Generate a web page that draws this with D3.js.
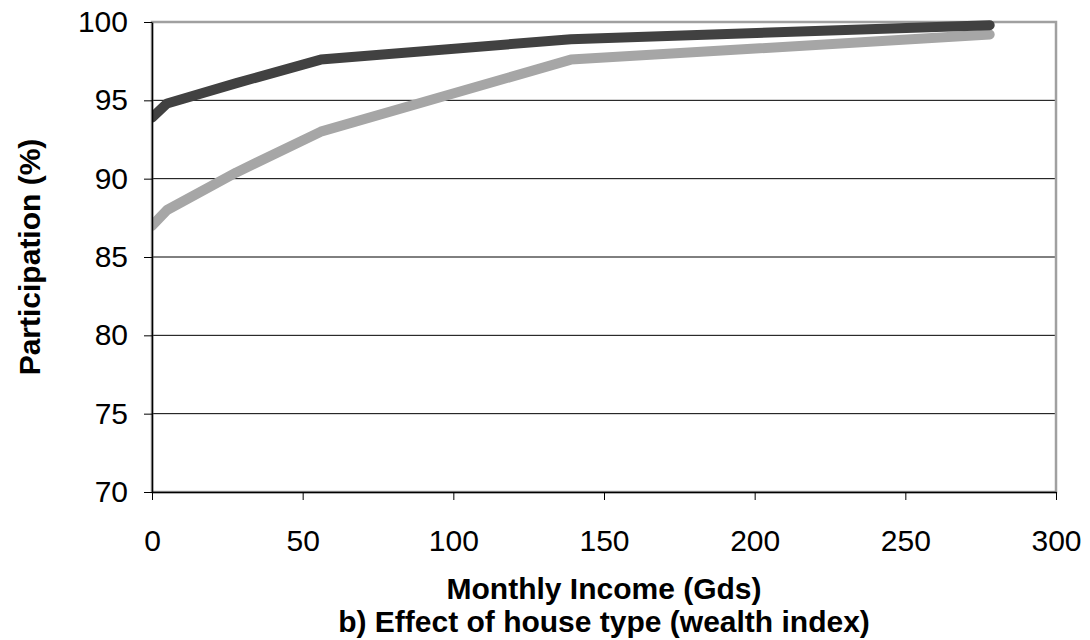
<!DOCTYPE html>
<html lang="en">
<head>
  <meta charset="UTF-8">
  <title>Participation vs Monthly Income</title>
  <style>
    body { margin: 0; background: #fff; }
    text { font-family: "Liberation Sans", Arial, sans-serif; }
  </style>
</head>
<body>
  <svg id="svg" width="1090" height="640"></svg>

  <script src="https://d3js.org/d3.v7.min.js"></script>
  <script>
    // data
    const income = [0, 5, 28, 56, 139, 278]
    const darkSeries = [93.9, 94.8, 96.1, 97.6, 98.9, 99.8]
    const lightSeries = [87.0, 88.0, 90.4, 93.0, 97.6, 99.2]
    const xTicks = [0, 50, 100, 150, 200, 250, 300]
    const yTicks = [70, 75, 80, 85, 90, 95, 100]

    const margin = { top: 22, right: 34, bottom: 148, left: 152 }
    const width = 1090 - (margin.left + margin.right)
    const height = 640 - (margin.top + margin.bottom)

    const xscale = d3.scaleLinear()
      .domain([0, 300])
      .range([margin.left, margin.left + width])

    const yscale = d3.scaleLinear()
      .domain([70, 100])
      .range([margin.top + height, margin.top])

    const svg = d3.select('#svg')

    // clip lines at the left axis
    svg.append('defs').append('clipPath')
      .attr('id', 'plotclip')
      .append('rect')
      .attr('x', xscale(0))
      .attr('y', 0)
      .attr('width', 1090 - xscale(0))
      .attr('height', yscale(70))

    // gridlines
    svg.append('g')
      .selectAll('line')
      .data(yTicks.filter(d => d > 70 && d < 100))
      .enter()
      .append('line')
      .attr('x1', xscale(0))
      .attr('x2', xscale(300))
      .attr('y1', d => yscale(d))
      .attr('y2', d => yscale(d))
      .attr('stroke', '#000')
      .attr('stroke-width', 1)

    // plot frame (grey top/right)
    svg.append('rect')
      .attr('x', xscale(0))
      .attr('y', yscale(100))
      .attr('width', xscale(300) - xscale(0))
      .attr('height', yscale(70) - yscale(100))
      .attr('fill', 'none')
      .attr('stroke', '#a0a0a0')
      .attr('stroke-width', 2.5)

    // lines
    const line = (vals) => d3.line()
      .x((d, i) => xscale(income[i]))
      .y(d => yscale(d))(vals)

    const lines = svg.append('g').attr('clip-path', 'url(#plotclip)')

    lines.append('path')
      .attr('d', line(lightSeries))
      .attr('fill', 'none')
      .attr('stroke', '#a6a6a6')
      .attr('stroke-width', 10)
      .attr('stroke-linejoin', 'round')
      .attr('stroke-linecap', 'round')

    lines.append('path')
      .attr('d', line(darkSeries))
      .attr('fill', 'none')
      .attr('stroke', '#414141')
      .attr('stroke-width', 10)
      .attr('stroke-linejoin', 'round')
      .attr('stroke-linecap', 'round')

    // axes
    const bottomAxis = d3.axisBottom(xscale)
      .tickValues(xTicks)
      .tickSize(8)
      .tickSizeOuter(0)
      .tickPadding(30)
    const gx = svg.append('g')
      .attr('transform', `translate(0, ${yscale(70)})`)
      .call(bottomAxis)
    gx.selectAll('text').attr('font-size', 30).attr('fill', '#000')
      .style('font-family', '"Liberation Sans", Arial, sans-serif')
    gx.selectAll('line').attr('stroke', '#000')
    gx.select('.domain').attr('stroke', '#000').attr('stroke-width', 1.5)

    const leftAxis = d3.axisLeft(yscale)
      .tickValues(yTicks)
      .tickSize(8)
      .tickSizeOuter(0)
      .tickPadding(16)
    const gy = svg.append('g')
      .attr('transform', `translate(${xscale(0)}, 0)`)
      .call(leftAxis)
    gy.selectAll('text').attr('font-size', 30).attr('fill', '#000')
      .style('font-family', '"Liberation Sans", Arial, sans-serif')
    gy.selectAll('line').attr('stroke', '#000')
    gy.select('.domain').attr('stroke', '#000').attr('stroke-width', 1.5)

    // titles
    svg.append('text')
      .attr('x', (xscale(0) + xscale(300)) / 2)
      .attr('y', 599)
      .attr('text-anchor', 'middle')
      .attr('font-size', 30)
      .attr('font-weight', 'bold')
      .text('Monthly Income (Gds)')

    svg.append('text')
      .attr('x', (xscale(0) + xscale(300)) / 2)
      .attr('y', 632)
      .attr('text-anchor', 'middle')
      .attr('font-size', 30)
      .attr('font-weight', 'bold')
      .text('b) Effect of house type (wealth index)')

    svg.append('text')
      .attr('transform', `translate(40, ${(yscale(70) + yscale(100)) / 2}) rotate(-90)`)
      .attr('text-anchor', 'middle')
      .attr('font-size', 30)
      .attr('font-weight', 'bold')
      .text('Participation (%)')
  </script>
</body>
</html>
